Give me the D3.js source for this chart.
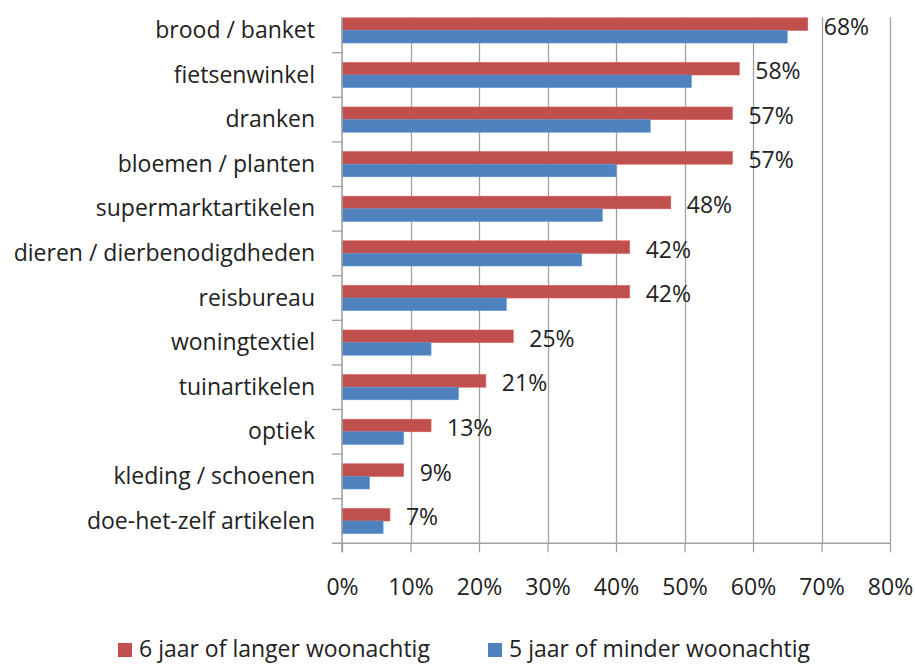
<!DOCTYPE html>
<html>
<head>
<meta charset="utf-8">
<script src="https://cdn.jsdelivr.net/npm/d3@7"></script>
<style>
  html, body { margin: 0; padding: 0; background: #ffffff; }
  svg { display: block; font-family: "Open Sans", sans-serif; }
</style>
</head>
<body>
<svg id="chart" width="915" height="664"></svg>
<script>
// ---- data ----
const categories = [
  "brood / banket",
  "fietsenwinkel",
  "dranken",
  "bloemen / planten",
  "supermarktartikelen",
  "dieren / dierbenodigdheden",
  "reisbureau",
  "woningtextiel",
  "tuinartikelen",
  "optiek",
  "kleding / schoenen",
  "doe-het-zelf artikelen"
];
const seriesNames = ["6 jaar of langer woonachtig", "5 jaar of minder woonachtig"];
const langer = [68, 58, 57, 57, 48, 42, 42, 25, 21, 13, 9, 7];
const minder = [65, 51, 45, 40, 38, 35, 24, 13, 17, 9, 4, 6];
const xTicks = [0, 10, 20, 30, 40, 50, 60, 70, 80];
const xTickLabels = ["0%", "10%", "20%", "30%", "40%", "50%", "60%", "70%", "80%"];
const colors = ["#C0504D", "#4F81BD"];

// ---- layout ----
const left = 342, right = 890;
const bandTop = 8.1, bottom = 543.3;
const plotTop = 17.3;
const fontSize = 23;
const textColor = "#222222";
const gridColor = "#a0a0a0";

const svg = d3.select("#chart");

const x = d3.scaleLinear().domain([0, 80]).range([left, right]);
const y = d3.scaleBand().domain(categories).range([bandTop, bottom]).paddingInner(0).paddingOuter(0);
const ys = d3.scaleBand().domain([0, 1]).range([0, y.bandwidth()]).paddingInner(0).paddingOuter(0.77);

// gridlines
svg.append("g").selectAll("line")
  .data(xTicks.filter(t => t > 0))
  .join("line")
  .attr("x1", d => Math.round(x(d)) + 0.5).attr("x2", d => Math.round(x(d)) + 0.5)
  .attr("y1", plotTop).attr("y2", bottom)
  .attr("stroke", gridColor).attr("stroke-width", 1.3);

// bars
const rows = categories.map((c, i) => ({ c, vals: [langer[i], minder[i]] }));
const g = svg.append("g");
rows.forEach(r => {
  r.vals.forEach((v, si) => {
    g.append("rect")
      .attr("x", x(0))
      .attr("y", y(r.c) + ys(si))
      .attr("width", x(v) - x(0))
      .attr("height", ys.bandwidth())
      .attr("fill", colors[si])
      .attr("stroke", d3.color(colors[si]).brighter(0.4))
      .attr("stroke-width", 0.6);
  });
});

// data labels (red series)
svg.append("g").selectAll("text")
  .data(rows)
  .join("text")
  .attr("x", d => x(d.vals[0]) + 16)
  .attr("y", d => y(d.c) + ys(0) + ys.bandwidth() / 2 + 10.4)
  .attr("font-size", fontSize)
  .attr("fill", textColor)
  .text(d => d.vals[0] + "%");

// x axis
const xAxis = d3.axisBottom(x).tickValues(xTicks).tickFormat((d, i) => xTickLabels[i]).tickSize(9).tickPadding(0);
const xg = svg.append("g").attr("transform", `translate(0,${bottom})`).call(xAxis);
xg.select(".domain").remove();
xg.selectAll(".tick line").attr("stroke", gridColor).attr("stroke-width", 1.3);
xg.selectAll(".tick text")
  .attr("font-family", "Open Sans").attr("font-size", fontSize).attr("fill", textColor)
  .attr("y", 52).attr("dy", 0);
svg.append("line")
  .attr("x1", 332).attr("x2", right + 0.5)
  .attr("y1", bottom).attr("y2", bottom)
  .attr("stroke", gridColor).attr("stroke-width", 1.6);

// y axis
svg.append("line")
  .attr("x1", left).attr("x2", left)
  .attr("y1", plotTop).attr("y2", bottom + 9)
  .attr("stroke", gridColor).attr("stroke-width", 1.6);
svg.append("g").selectAll("line")
  .data(categories.slice(0, categories.length - 1))
  .join("line")
  .attr("x1", 332).attr("x2", left)
  .attr("y1", d => y(d) + y.bandwidth()).attr("y2", d => y(d) + y.bandwidth())
  .attr("stroke", gridColor).attr("stroke-width", 1.3);
svg.append("g").selectAll("text")
  .data(categories)
  .join("text")
  .attr("x", 315)
  .attr("y", d => y(d) + y.bandwidth() / 2 + 7.5)
  .attr("text-anchor", "end")
  .attr("font-size", fontSize)
  .attr("fill", textColor)
  .text(d => d);

// legend
const legendX = [118, 488];
const legendBase = 657;
const lg = svg.append("g");
seriesNames.forEach((name, i) => {
  lg.append("rect")
    .attr("x", legendX[i]).attr("y", legendBase - 14)
    .attr("width", 14).attr("height", 14)
    .attr("fill", colors[i]);
  lg.append("text")
    .attr("x", legendX[i] + 21).attr("y", legendBase)
    .attr("font-size", fontSize)
    .attr("fill", textColor)
    .text(name);
});
</script>
</body>
</html>
